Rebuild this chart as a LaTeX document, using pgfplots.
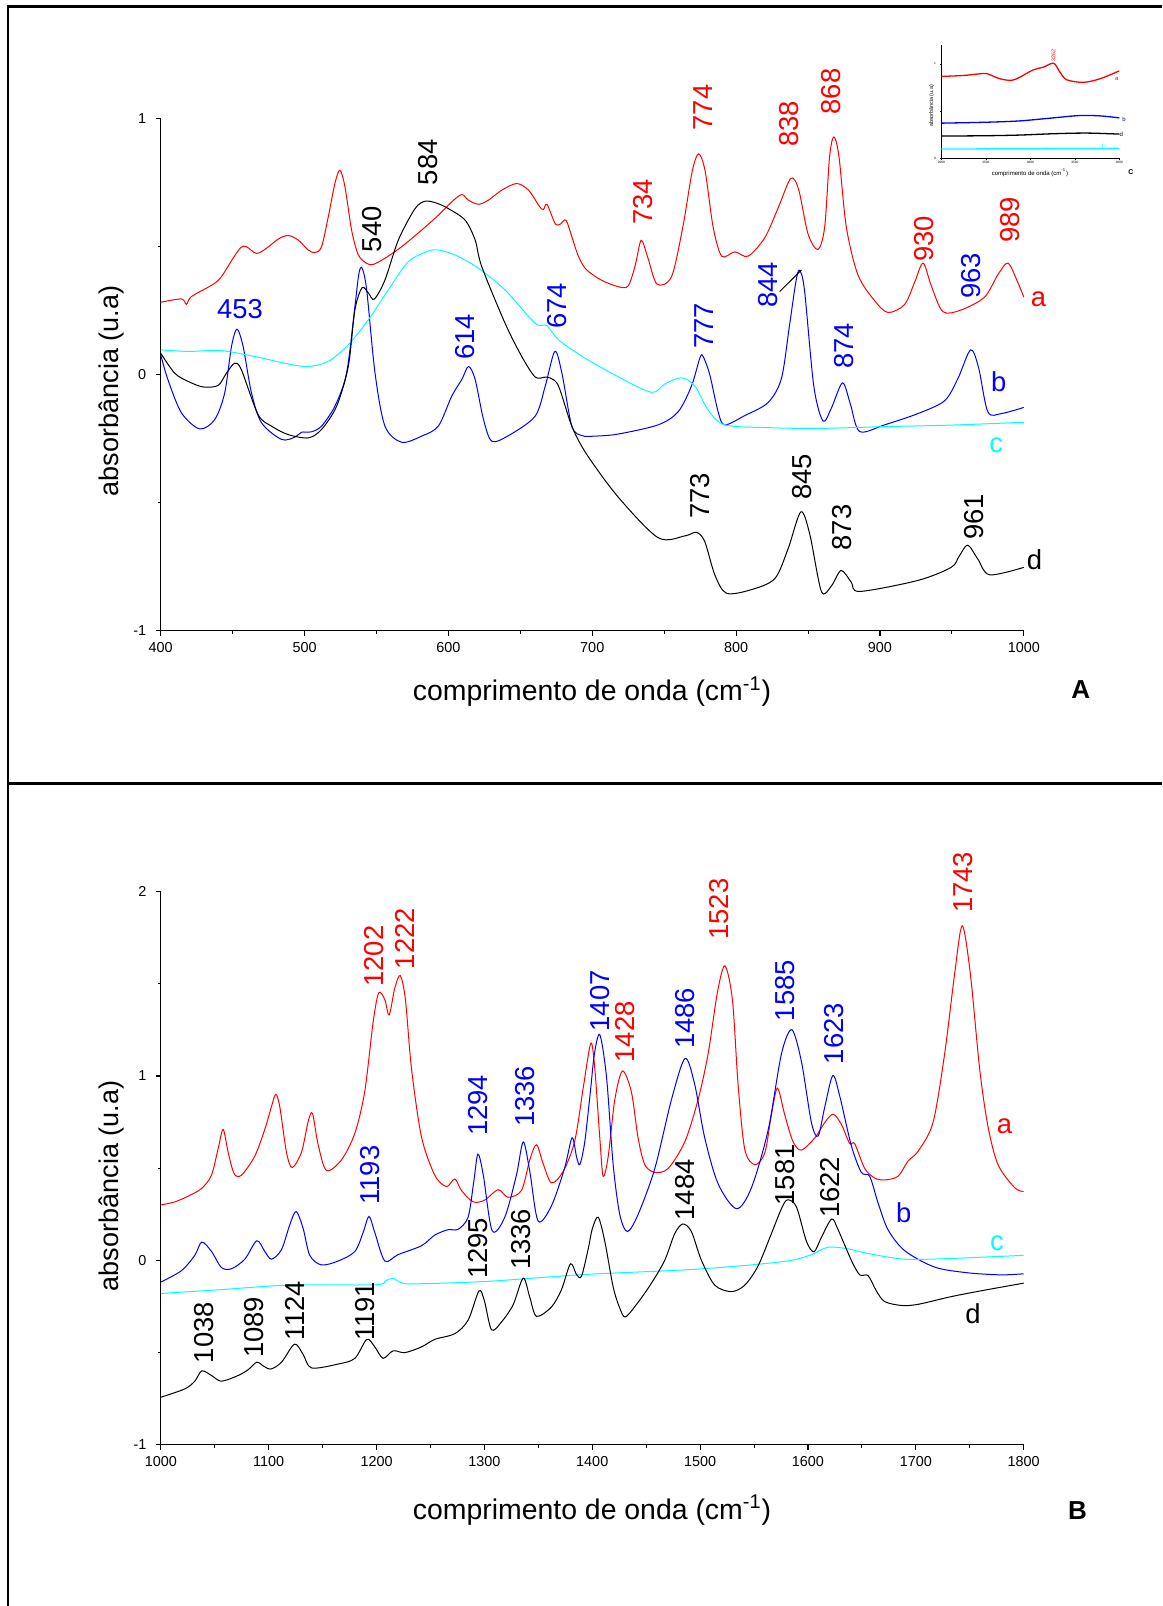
\documentclass[border=0pt]{standalone}
\usepackage{pgfplots}
\pgfplotsset{compat=1.18}
\usepackage{fontspec}
\setmainfont{Liberation Sans}

\definecolor{specred}{RGB}{255,0,0}
\definecolor{specblue}{RGB}{0,0,255}
\definecolor{speccyan}{RGB}{0,255,255}

\pgfplotsset{
  ftir/.style={
    scale only axis,
    axis x line*=bottom, axis y line*=left,
    axis line style={line width=0.6pt, -},
    x axis line style={-}, y axis line style={-},
    tick align=outside,
    major tick length=2.5pt, minor tick length=1.5pt,
    every tick/.style={line width=0.6pt, black},
    every minor tick/.style={line width=0.5pt, black},
    tick label style={font=\fontsize{7.2}{8}\selectfont},
    yticklabel style={xshift=-1.2pt},
    /pgf/number format/assume math mode=true,
    /pgf/number format/1000 sep={},
    clip=false,
  },
  spec/.style={line width=0.5pt, smooth, tension=0.5, mark=none},
}
\tikzset{
  annot/.style={font=\fontsize{13.7}{15}\selectfont, rotate=90, inner sep=0pt},
  flat/.style={font=\fontsize{13.7}{15}\selectfont, inner sep=0pt},
  axlab/.style={font=\fontsize{13.5}{15}\selectfont, inner sep=0pt},
  xlab/.style={font=\fontsize{14.2}{16}\selectfont, inner sep=0pt},
}

\begin{document}
\begin{tikzpicture}[x=1pt,y=1pt]
\useasboundingbox (0,0) rectangle (581,803);

% panel frames
\draw[line width=1.2pt] (3.4,799.8) -- (581,799.8);
\draw[line width=1.2pt] (4,799.8) -- (4,0);
\draw[line width=1.5pt] (3.4,411) -- (581,411);

% ---------------- Panel A: 400-1000 cm-1 ----------------
\begin{axis}[ftir,
  at={(80.35pt,487.7pt)}, anchor=south west,
  width=431.55pt, height=255.9pt,
  xmin=400, xmax=1000, ymin=-1, ymax=1,
  xtick={400,500,...,1000}, minor xtick={450,550,...,950},
  ytick={-1,0,1}, minor ytick={-0.5,0.5},
]
% a
\addplot[spec, specred] coordinates {
(400,0.283)(414.4,0.296)(417.9,0.275)(421.3,0.305)(436.4,0.353)(442.2,0.383)
(450.3,0.455)(455.7,0.497)(459.6,0.5)(466.6,0.474)(473.5,0.494)(481.7,0.53)
(488.6,0.544)(495.6,0.526)(502.6,0.487)(507.2,0.477)(511.8,0.5)(516.5,0.617)
(521.1,0.747)(524.6,0.799)(528.1,0.734)(532.7,0.565)(537.4,0.468)(543.2,0.435)
(547.8,0.431)(555.9,0.455)(567.5,0.5)(581.4,0.565)(593,0.623)(602.3,0.675)
(609.3,0.704)(613.9,0.682)(620.9,0.666)(627.8,0.682)(637.1,0.721)(647.5,0.747)
(655.7,0.721)(663,0.66)(666,0.645)(668.5,0.666)(674.2,0.591)(677.7,0.588)
(681.7,0.604)(685.8,0.539)(690.5,0.461)(696,0.41)(706.5,0.369)(718,0.344)
(725,0.347)(730,0.43)(734,0.525)(738.5,0.46)(745,0.354)(755.1,0.383)
(763,0.578)(769.5,0.795)(774,0.863)(778.5,0.795)(784,0.578)(790,0.463)
(799.1,0.48)(808.3,0.463)(819.9,0.535)(829.2,0.651)(838,0.767)(843.5,0.723)
(850,0.55)(856.9,0.489)(861.6,0.578)(865,0.853)(868,0.929)(871.5,0.853)
(876.6,0.578)(884.7,0.39)(896.3,0.289)(905.6,0.243)(917.1,0.274)(924.1,0.361)
(930,0.436)(935.7,0.347)(943.8,0.246)(956.5,0.253)(972.7,0.303)(981.9,0.39)
(989,0.436)(995.8,0.361)(1000,0.303)};
% b
\addplot[spec, specblue] coordinates {
(400,0.078)(405,-0.019)(414.4,-0.149)(427.1,-0.212)(437.6,-0.175)(444.5,-0.071)
(449.2,0.11)(453,0.178)(457.3,0.11)(463.1,-0.071)(470.1,-0.188)(484,-0.253)
(493.3,-0.244)(497.9,-0.225)(504.9,-0.223)(511.8,-0.201)(521.1,-0.123)(529.2,0.006)
(535,0.266)(537.8,0.396)(540,0.416)(543.2,0.331)(549,0.006)(555.9,-0.201)
(567.5,-0.264)(581.4,-0.24)(593,-0.201)(602.3,-0.084)(609.3,-0.019)(614,0.032)
(618.6,-0.019)(624.4,-0.175)(630.2,-0.26)(641.8,-0.238)(660.3,-0.162)(667.3,-0.045)
(674,0.091)(678.9,0.006)(685.8,-0.201)(692.8,-0.238)(702,-0.24)(718,-0.232)
(745.8,-0.196)(759.7,-0.145)(769,-0.044)(774.8,0.065)(777,0.072)(781.7,0)
(787.5,-0.145)(792.1,-0.196)(806,-0.16)(822.2,-0.109)(831.5,-0.015)(837,0.188)
(841.5,0.361)(844,0.408)(847.5,0.332)(854,-0.044)(860.4,-0.181)(866.2,-0.131)
(874,-0.032)(879.5,-0.116)(885.9,-0.222)(903.2,-0.196)(926.4,-0.152)(944.9,-0.102)
(954.2,-0.015)(963,0.097)(968.5,0.029)(975,-0.145)(984.3,-0.152)(1000,-0.128)};
% c
\addplot[spec, speccyan] coordinates {
(400,0.097)(419,0.091)(442.2,0.094)(465.4,0.071)(488.6,0.042)(502.6,0.032)
(516.5,0.052)(530.4,0.117)(544.3,0.214)(558.2,0.331)(572.2,0.442)(586.1,0.483)
(593,0.487)(604.6,0.468)(620.9,0.416)(639.4,0.331)(660.3,0.201)(668.4,0.192)
(676.6,0.136)(694.9,0.065)(718,-0.008)(741.2,-0.069)(750.5,-0.036)(762,-0.012)
(771.3,-0.044)(780.6,-0.138)(792.1,-0.196)(822.2,-0.207)(856.9,-0.21)(903.2,-0.203)
(949.5,-0.197)(1000,-0.186)};
% d
\addplot[spec, black] coordinates {
(400,0.084)(409.7,0.006)(419,-0.026)(429.5,-0.048)(439.9,-0.042)(445.7,0.006)
(451.5,0.045)(456.1,0.019)(467.7,-0.156)(477,-0.201)(488.6,-0.234)(502.6,-0.247)
(511.8,-0.214)(522.3,-0.123)(530.4,0.032)(535,0.253)(540,0.34)(544.5,0.318)
(548.5,0.295)(555.9,0.37)(565.2,0.526)(576.8,0.649)(584,0.678)(592,0.67)
(600,0.649)(611.6,0.604)(618.6,0.526)(623.2,0.422)(639.4,0.201)(651,0.071)
(660.3,-0.009)(667,-0.01)(670.8,-0.013)(676.6,-0.045)(685.8,-0.201)(696,-0.31)
(718,-0.478)(745.8,-0.637)(764.4,-0.63)(772.5,-0.616)(778.2,-0.652)(785.2,-0.782)
(793.3,-0.854)(810.6,-0.84)(826.9,-0.797)(836.1,-0.681)(845,-0.536)(851.2,-0.623)
(859.3,-0.847)(866.2,-0.826)(873,-0.765)(880.1,-0.811)(885.9,-0.847)(926.4,-0.804)
(949.5,-0.753)(955,-0.71)(961,-0.666)(968,-0.72)(976.2,-0.782)(1000,-0.753)};
% leader line for the 844 band
\addplot[black, line width=0.5pt, mark=none] coordinates {(830.3,0.325)(845.4,0.409)};

% band positions
\node[flat, text=specblue] at (axis cs:455.2,0.258) {453};
\node[annot] at (axis cs:546.6,0.568) {540};
\node[annot] at (axis cs:586,0.83) {584};
\node[annot, text=specblue] at (axis cs:611.6,0.147) {614};
\node[annot, text=specblue] at (axis cs:675.4,0.269) {674};
\node[annot, text=specred] at (axis cs:735.4,0.675) {734};
\node[annot, text=specred] at (axis cs:777.1,1.044) {774};
\node[annot, text=specred] at (axis cs:836.6,0.981) {838};
\node[annot, text=specred] at (axis cs:866.2,1.107) {868};
\node[annot, text=specred] at (axis cs:930.8,0.53) {930};
\node[annot, text=specred] at (axis cs:990.7,0.604) {989};
\node[annot, text=specblue] at (axis cs:822,0.351) {844};
\node[annot, text=specblue] at (axis cs:963.4,0.387) {963};
\node[annot, text=specblue] at (axis cs:777.8,0.191) {777};
\node[annot, text=specblue] at (axis cs:875,0.112) {874};
\node[annot] at (axis cs:774.8,-0.474) {773};
\node[annot] at (axis cs:846.1,-0.399) {845};
\node[annot] at (axis cs:873.6,-0.597) {873};
\node[annot] at (axis cs:965.7,-0.555) {961};
% curve letters
\node[flat, text=specred] at (axis cs:1010.2,0.296) {a};
\node[flat, text=specblue] at (axis cs:982.6,-0.029) {b};
\node[flat, text=speccyan] at (axis cs:980.8,-0.275) {c};
\node[flat] at (axis cs:1007.4,-0.724) {d};
\end{axis}

\node[axlab, rotate=90] at (55.5,607.5) {absorbância (u.a)};
\node[xlab] at (296,457.2) {comprimento de onda (cm\textsuperscript{-1})};
\node[font=\bfseries\fontsize{13}{15}\selectfont, inner sep=0pt] at (540.4,458) {A};

% ---------------- Inset: 2000-4000 cm-1 ----------------
\begin{axis}[ftir,
  at={(470.65pt,723.85pt)}, anchor=south west,
  width=89pt, height=56.65pt,
  xmin=2000, xmax=4000, ymin=0, ymax=1.2,
  axis line style={line width=0.5pt, -},
  major tick length=0.9pt, minor tick length=0.6pt,
  every tick/.style={line width=0.3pt, black},
  every minor tick/.style={line width=0.3pt, black},
  tick label style={font=\fontsize{1.6}{2}\selectfont, inner sep=0.4pt},
  yticklabel style={xshift=0pt},
  xtick={2000,2500,...,4000}, minor xtick={2250,2750,3250,3750},
  ytick={0,1}, minor ytick={0.5},
]
\addplot[spec, line width=0.65pt, specred] coordinates {
(2000,0.867)(2247,0.877)(2472,0.898)(2528,0.891)(2659,0.842)(2790,0.825)
(2884,0.86)(3034,0.937)(3146,0.965)(3262,1.007)(3333,0.912)(3408,0.832)
(3595,0.804)(3783,0.842)(4000,0.926)};
\addplot[spec, line width=0.65pt, specblue] coordinates {
(2000,0.372)(2509,0.382)(2884,0.396)(3258,0.428)(3558,0.453)(3783,0.449)(4000,0.428)};
\addplot[spec, line width=0.65pt, black] coordinates {
(2000,0.235)(2509,0.239)(2884,0.246)(3258,0.26)(3633,0.267)(4000,0.256)};
\addplot[spec, line width=0.65pt, speccyan] coordinates {(2000,0.098)(4000,0.105)};
\node[font=\fontsize{2.7}{3}\selectfont, rotate=90, text=specred, inner sep=0pt] at (axis cs:3262,1.084) {3262};
\node[font=\fontsize{3}{3}\selectfont, text=specred, inner sep=0pt] at (axis cs:3971,0.837) {a};
\node[font=\fontsize{3}{3}\selectfont, text=specblue, inner sep=0pt] at (axis cs:4053,0.414) {b};
\node[font=\fontsize{3}{3}\selectfont, text=speccyan, inner sep=0pt] at (axis cs:3820,0.127) {c};
\node[font=\fontsize{3}{3}\selectfont, inner sep=0pt] at (axis cs:4023,0.257) {d};
\end{axis}
\node[font=\fontsize{2.7}{3}\selectfont, rotate=90, inner sep=0pt] at (465.85,750) {absorbância (u.a)};
\node[font=\fontsize{3}{3}\selectfont, inner sep=0pt] at (515,716.8) {comprimento de onda (cm\textsuperscript{-1})};
\node[font=\bfseries\fontsize{3.5}{4}\selectfont, inner sep=0pt] at (565.5,716.8) {C};

% ---------------- Panel B: 1000-1800 cm-1 ----------------
\begin{axis}[ftir,
  at={(80.4pt,80.7pt)}, anchor=south west,
  width=431.45pt, height=276.45pt,
  xmin=1000, xmax=1800, ymin=-1, ymax=2,
  xtick={1000,1100,...,1800}, minor xtick={1050,1150,...,1750},
  ytick={-1,0,1,2}, minor ytick={-0.5,0.5,1.5},
]
% a
\addplot[spec, specred] coordinates {
(1000,0.3)(1013,0.317)(1025.3,0.348)(1037.7,0.389)(1047,0.462)(1053.2,0.607)
(1057.8,0.71)(1062.4,0.586)(1068,0.47)(1074.8,0.462)(1087.1,0.565)(1096.4,0.71)
(1102.6,0.834)(1106.6,0.9)(1110.3,0.834)(1116.5,0.586)(1121.8,0.503)(1130.4,0.586)
(1136.6,0.752)(1140.6,0.797)(1145.9,0.627)(1153.6,0.487)(1167.5,0.545)(1179.9,0.689)
(1189.1,0.917)(1196.8,1.29)(1202,1.451)(1207.7,1.414)(1211.7,1.331)(1216.9,1.476)
(1222,1.545)(1226.8,1.414)(1232.4,1.041)(1241.7,0.669)(1254,0.462)(1264.8,0.4)
(1272.6,0.441)(1278.7,0.379)(1289.6,0.317)(1300.4,0.327)(1312.7,0.383)(1322,0.342)
(1334.4,0.379)(1342.1,0.545)(1348.3,0.627)(1354.5,0.524)(1362.2,0.42)(1373,0.482)
(1383.8,0.648)(1392,0.95)(1398.7,1.178)(1402.4,1.037)(1407,0.664)(1410.1,0.456)
(1414.7,0.56)(1420.9,0.871)(1428,1.027)(1436.3,0.913)(1442.5,0.664)(1448.7,0.519)
(1458,0.477)(1470.3,0.498)(1485.8,0.643)(1498.1,0.871)(1507.4,1.12)(1516,1.452)
(1523,1.598)(1530,1.411)(1535.2,0.954)(1541.4,0.602)(1550.7,0.519)(1559.9,0.581)
(1566.1,0.788)(1571.7,0.934)(1578.5,0.788)(1586.2,0.643)(1593.9,0.598)(1606.3,0.664)
(1615.5,0.747)(1623.3,0.793)(1631,0.737)(1638.7,0.633)(1643.3,0.633)(1652.6,0.498)
(1661.9,0.446)(1671.1,0.436)(1683.5,0.456)(1692.8,0.539)(1702,0.591)(1715.9,0.747)
(1726.7,1.12)(1736,1.556)(1743,1.815)(1750.5,1.556)(1759.2,1.037)(1766.9,0.726)
(1776.2,0.519)(1791.6,0.394)(1800,0.373)};
% b
\addplot[spec, specblue] coordinates {
(1000,-0.118)(1019.2,-0.056)(1031.5,0.027)(1038,0.099)(1047,0.048)(1056.2,-0.039)
(1065.5,-0.046)(1077.9,0.006)(1089,0.106)(1096.4,0.048)(1102.6,0.006)(1111.9,0.058)
(1119.6,0.193)(1125.5,0.265)(1132,0.172)(1138.1,0.027)(1148.9,-0.025)(1164.4,-0.004)
(1179.9,0.048)(1187.6,0.151)(1193,0.238)(1198.4,0.151)(1207.7,-0.004)(1220,0.031)
(1241.7,0.079)(1254,0.137)(1266.4,0.166)(1275.6,0.168)(1284.9,0.234)(1290,0.42)
(1294,0.576)(1299,0.462)(1307.2,0.161)(1318.9,0.234)(1329.7,0.462)(1336,0.642)
(1342.1,0.482)(1349.8,0.213)(1362.2,0.296)(1374.5,0.503)(1381.3,0.665)(1385.5,0.56)
(1388.5,0.52)(1393,0.64)(1398,0.9)(1402,1.12)(1407,1.224)(1413.2,0.996)
(1419.4,0.519)(1425.5,0.249)(1432.6,0.156)(1442.5,0.249)(1458,0.498)(1473.4,0.871)
(1486,1.095)(1495,0.954)(1504.3,0.664)(1516.7,0.415)(1533.7,0.28)(1547.6,0.394)
(1563,0.705)(1575.4,1.12)(1585,1.251)(1593.9,1.079)(1603.2,0.747)(1609.4,0.674)
(1615.5,0.83)(1623,1.002)(1629.4,0.892)(1640.2,0.622)(1649.5,0.477)(1657.2,0.456)
(1665,0.311)(1674.2,0.166)(1689.7,0.052)(1717.5,-0.037)(1748.4,-0.068)(1779.3,-0.079)
(1800,-0.073)};
% c
\addplot[spec, speccyan] coordinates {
(1000,-0.18)(1056.2,-0.159)(1118,-0.135)(1198.4,-0.133)(1207.7,-0.114)(1214.8,-0.097)
(1223.1,-0.122)(1235.5,-0.128)(1303.5,-0.114)(1393,-0.077)(1485.8,-0.052)(1547.6,-0.025)
(1584.6,0)(1603.2,0.031)(1618.6,0.071)(1637.2,0.062)(1655.7,0.037)(1689.7,0.006)
(1732.9,0.01)(1800,0.027)};
% d
\addplot[spec, black] coordinates {
(1000,-0.743)(1022.2,-0.698)(1031.5,-0.656)(1038,-0.6)(1047,-0.625)(1056.2,-0.656)
(1071.7,-0.625)(1080.9,-0.594)(1089,-0.553)(1094.9,-0.573)(1102,-0.59)(1111.9,-0.553)
(1124,-0.455)(1132,-0.511)(1139.7,-0.584)(1164.4,-0.563)(1179.9,-0.532)(1191,-0.429)
(1198.4,-0.47)(1206.1,-0.532)(1215.4,-0.491)(1226.2,-0.501)(1241.7,-0.47)(1254,-0.429)
(1272.6,-0.398)(1284.9,-0.325)(1295,-0.166)(1300,-0.22)(1306.6,-0.377)(1315.8,-0.335)
(1326.6,-0.242)(1336,-0.097)(1342.1,-0.201)(1348.3,-0.304)(1362.2,-0.253)(1371.5,-0.159)
(1379.8,-0.019)(1385.4,-0.077)(1390,-0.087)(1396.2,0.06)(1400,0.17)(1405.5,0.234)
(1411.6,0.104)(1419.4,-0.145)(1425.5,-0.259)(1430.8,-0.307)(1442.5,-0.228)(1454.9,-0.124)
(1467.2,0)(1476.5,0.145)(1484,0.197)(1491.9,0.156)(1501.2,0)(1513.6,-0.135)
(1529,-0.17)(1541.4,-0.135)(1553.7,-0.031)(1566.1,0.145)(1575.4,0.28)(1581,0.328)
(1589.3,0.29)(1598.5,0.104)(1605.6,0.046)(1612.4,0.124)(1622,0.224)(1627.9,0.166)
(1640.2,0)(1648,-0.079)(1655.7,-0.083)(1663.4,-0.166)(1671.1,-0.224)(1686.6,-0.245)
(1702,-0.239)(1732.9,-0.197)(1763.8,-0.162)(1800,-0.124)};

% band positions
\node[annot, text=specred] at (axis cs:1198.1,1.65) {1202};
\node[annot, text=specred] at (axis cs:1226.5,1.745) {1222};
\node[annot, text=specred] at (axis cs:1430.8,1.239) {1428};
\node[annot, text=specred] at (axis cs:1517.9,1.905) {1523};
\node[annot, text=specred] at (axis cs:1744,2.05) {1743};
\node[annot, text=specblue] at (axis cs:1194,0.462) {1193};
\node[annot, text=specblue] at (axis cs:1293.9,0.84) {1294};
\node[annot, text=specblue] at (axis cs:1337.5,0.89) {1336};
\node[annot, text=specblue] at (axis cs:1407.3,1.407) {1407};
\node[annot, text=specblue] at (axis cs:1485.8,1.313) {1486};
\node[annot, text=specblue] at (axis cs:1579.1,1.463) {1585};
\node[annot, text=specblue] at (axis cs:1623.9,1.23) {1623};
\node[annot] at (axis cs:1039.9,-0.393) {1038};
\node[annot] at (axis cs:1086.2,-0.364) {1089};
\node[annot] at (axis cs:1124.8,-0.273) {1124};
\node[annot] at (axis cs:1189.7,-0.277) {1191};
\node[annot] at (axis cs:1294.5,0.064) {1295};
\node[annot] at (axis cs:1334,0.114) {1336};
\node[annot] at (axis cs:1486.4,0.382) {1484};
\node[annot] at (axis cs:1578.5,0.463) {1581};
\node[annot] at (axis cs:1620.2,0.396) {1622};
% curve letters
\node[flat, text=specred] at (axis cs:1782.3,0.726) {a};
\node[flat, text=specblue] at (axis cs:1688.7,0.259) {b};
\node[flat, text=speccyan] at (axis cs:1775.2,0.093) {c};
\node[flat] at (axis cs:1753,-0.29) {d};
\end{axis}

\node[axlab, rotate=90] at (55.5,210) {absorbância (u.a)};
\node[xlab] at (296,48) {comprimento de onda (cm\textsuperscript{-1})};
\node[font=\bfseries\fontsize{13}{15}\selectfont, inner sep=0pt] at (538.8,47.8) {B};
\end{tikzpicture}
\end{document}
